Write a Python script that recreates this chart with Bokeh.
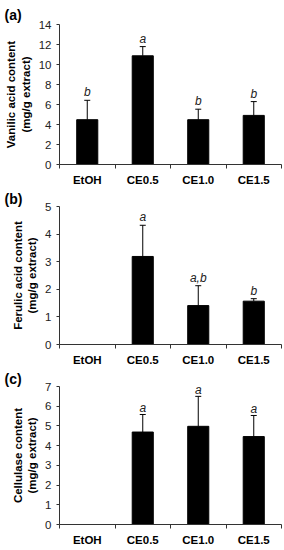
from bokeh.plotting import figure
from bokeh.models import Range1d, FixedTicker, Whisker, TeeHead, ColumnDataSource
from bokeh.layouts import column
from bokeh.core.properties import value
from bokeh.embed import file_html
from bokeh.resources import INLINE

categories = ["EtOH", "CE0.5", "CE1.0", "CE1.5"]

vanilic = [4.48, 10.87, 4.48, 4.91]
vanilic_err = [1.94, 0.92, 1.05, 1.38]
vanilic_letters = ["b", "a", "b", "b"]

ferulic = [0.0, 3.19, 1.41, 1.57]
ferulic_err = [0.0, 1.13, 0.72, 0.09]
ferulic_letters = ["", "a", "a,b", "b"]

cellulase = [0.0, 4.69, 4.98, 4.46]
cellulase_err = [0.0, 0.89, 1.52, 1.07]
cellulase_letters = ["", "a", "a", "a"]

FONT = "Liberation Sans"


def make_panel(tag, ylabel, vals, errs, letters, ymax, step, height, top_border,
               tag_standoff, letter_offset):
    p = figure(width=284, height=height, x_range=Range1d(0, 4), y_range=Range1d(0, ymax),
               output_backend="svg", toolbar_location=None,
               min_border_left=59, min_border_right=3, min_border_top=top_border,
               min_border_bottom=22)
    p.outline_line_color = None
    p.xgrid.visible = False
    p.ygrid.visible = False

    p.title.text = tag
    p.title.align = "left"
    p.title.offset = -55
    p.title.text_font = FONT
    p.title.text_font_style = "bold"
    p.title.text_font_size = "14px"
    p.title.text_color = "black"
    p.title.standoff = tag_standoff

    idx = [i for i, v in enumerate(vals) if v > 0]
    src = ColumnDataSource(dict(
        x=[i + 0.5 for i in idx],
        top=[vals[i] for i in idx],
        upper=[vals[i] + errs[i] for i in idx],
        lab=[letters[i] for i in idx],
    ))
    p.vbar(x="x", top="top", width=0.38, bottom=0, source=src,
           fill_color="black", line_color="black")
    w = Whisker(base="x", lower="top", upper="upper", source=src,
                line_color="black", line_width=1,
                lower_head=None, upper_head=TeeHead(size=6, line_color="black", line_width=1))
    p.add_layout(w)
    p.text(x="x", y="upper", text="lab", source=src, text_align="center",
           text_baseline="bottom", y_offset=letter_offset, text_font=value(FONT),
           text_font_style="italic", text_font_size="12px", text_color="#222222")

    xa = p.xaxis[0]
    xa.ticker = FixedTicker(ticks=[i + 0.5 for i in range(len(categories))],
                            minor_ticks=list(range(len(categories) + 1)))
    xa.major_label_overrides = {i + 0.5: c for i, c in enumerate(categories)}
    xa.major_tick_line_color = None
    xa.minor_tick_in = 0
    xa.minor_tick_out = 4
    xa.minor_tick_line_color = "#333333"
    xa.axis_line_color = "#333333"
    xa.major_label_text_font = FONT
    xa.major_label_text_font_style = "bold"
    xa.major_label_text_font_size = "11.5px"
    xa.major_label_text_color = "black"
    xa.major_label_standoff = 3

    ya = p.yaxis[0]
    ya.ticker = FixedTicker(ticks=list(range(0, ymax + 1, step)))
    ya.minor_tick_line_color = None
    ya.major_tick_in = 0
    ya.major_tick_out = 3
    ya.major_tick_line_color = "#333333"
    ya.axis_line_color = "#333333"
    ya.major_label_text_font = FONT
    ya.major_label_text_font_size = "11.5px"
    ya.major_label_text_color = "#222222"
    ya.major_label_standoff = 5
    ya.axis_label = ylabel
    ya.axis_label_text_font = FONT
    ya.axis_label_text_font_style = "bold"
    ya.axis_label_text_font_size = "11.5px"
    ya.axis_label_text_color = "black"
    ya.axis_label_standoff = 4
    return p


p1 = make_panel("(a)", "Vanilic acid content\n(mg/g extract)", vanilic, vanilic_err,
                vanilic_letters, 14, 2, 188, 24, 3, -1)
p2 = make_panel("(b)", "Ferulic acid content\n(mg/g extract)", ferulic, ferulic_err,
                ferulic_letters, 5, 1, 180, 16, 0, -1)
p3 = make_panel("(c)", "Cellulase content\n(mg/g extract)", cellulase, cellulase_err,
                cellulase_letters, 7, 1, 180, 16, 0, 1)

layout = column(p1, p2, p3, spacing=0)
open("out.html", "w").write(file_html(layout, INLINE))
